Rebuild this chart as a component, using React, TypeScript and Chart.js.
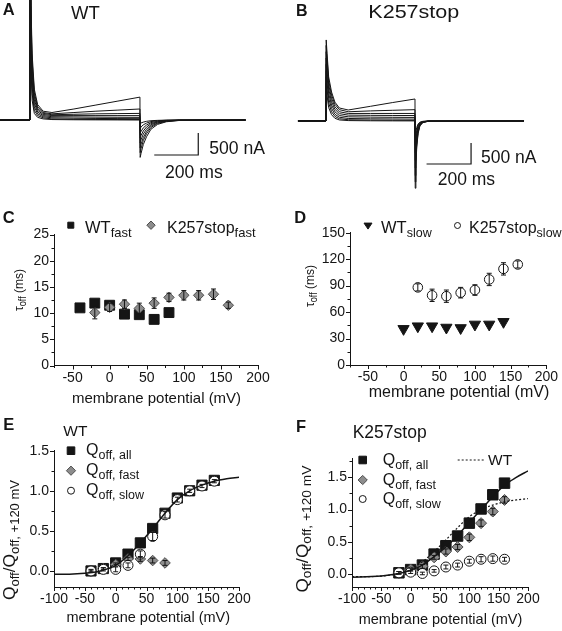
import React, { useEffect, useRef } from 'react';
import { Chart, registerables } from 'chart.js';

Chart.register(...registerables);

const FONT = '"Liberation Sans", Arial, Helvetica, sans-serif';
const INK = '#151515';
const DIAMOND_FILL = '#8d8d8d';
const DIAMOND_EDGE = '#4c4c4c';

// ---------- A: WT current traces (ms, nA) ----------
const timeA = [-136, 0, 1, 5, 10, 20, 35, 60, 100, 200, 300, 400, 500, 501, 505, 515, 530, 550, 580, 620, 680, 980];
const wtTraces = [
  [0, 0, 6000, 2600, 1500, 700, 350, 200, 170, 250, 340, 430, 520, -850, -760, -560, -380, -210, -100, -40, -10, 0],
  [0, 0, 5600, 2400, 1350, 620, 300, 170, 140, 170, 200, 225, 250, -740, -650, -470, -310, -170, -80, -30, -8, 0],
  [0, 0, 5200, 2200, 1200, 540, 260, 150, 120, 130, 140, 145, 150, -630, -550, -400, -260, -140, -65, -25, -6, 0],
  [0, 0, 4800, 2000, 1050, 460, 220, 125, 100, 100, 100, 100, 100, -520, -450, -320, -210, -110, -50, -20, -5, 0],
  [0, 0, 4400, 1800, 900, 380, 180, 100, 75, 70, 65, 62, 60, -410, -350, -250, -160, -85, -40, -15, -4, 0],
  [0, 0, 4000, 1600, 750, 300, 140, 75, 50, 40, 35, 32, 30, -300, -260, -180, -115, -60, -28, -10, -3, 0],
  [0, 0, 3600, 1400, 600, 220, 100, 50, 25, 15, 12, 10, 10, -190, -160, -110, -70, -36, -17, -6, -2, 0],
  [0, 0, 3200, 1200, 450, 150, 60, 25, 10, 5, 3, 2, 0, -80, -68, -48, -30, -16, -8, -3, -1, 0],
];
const barTimeA = [565, 765, 765];
const barCurrA = [-795, -795, -295];

// ---------- B: K257stop current traces (ms, nA) ----------
const timeB = [-126, 0, 1, 5, 12, 25, 40, 60, 100, 200, 300, 400, 401, 404, 408, 414, 422, 435, 460, 890];
const k257Traces = [
  [0, 0, 1930, 1600, 1050, 690, 450, 310, 262, 350, 440, 524, -1600, -1050, -620, -300, -120, -40, -5, 0],
  [0, 0, 1800, 1480, 960, 620, 400, 270, 220, 240, 255, 270, -1450, -950, -560, -270, -110, -35, -5, 0],
  [0, 0, 1650, 1350, 860, 540, 340, 220, 180, 180, 180, 180, -1300, -850, -500, -240, -95, -30, -4, 0],
  [0, 0, 1500, 1200, 760, 460, 280, 175, 140, 135, 132, 130, -1120, -730, -430, -200, -80, -25, -3, 0],
  [0, 0, 1350, 1050, 650, 380, 220, 130, 100, 92, 88, 85, -940, -610, -360, -170, -65, -20, -3, 0],
  [0, 0, 1200, 900, 540, 300, 160, 90, 60, 52, 48, 45, -760, -490, -290, -135, -52, -16, -2, 0],
  [0, 0, 1050, 750, 430, 220, 110, 55, 30, 22, 18, 15, -580, -370, -220, -100, -40, -12, -2, 0],
  [0, 0, 900, 600, 320, 150, 65, 25, 10, 5, 3, 2, -400, -260, -150, -70, -28, -8, -1, 0],
];
const barTimeB = [452, 652, 652];
const barCurrB = [-1024, -1024, -524];

// ---------- C: tau_off fast (ms) ----------
const cVoltWT = [-40, -20, 0, 20, 40, 60, 80];
const cWTFast = [11.0, 11.9, 11.5, 9.8, 9.7, 8.8, 10.1];
const cVoltK = [-20, 0, 20, 40, 60, 80, 100, 120, 140, 160];
const cKFast = [10.1, 11.1, 11.7, 10.9, 11.9, 13.0, 13.4, 13.4, 13.6, 11.5];
const cKFastErr = [1.2, 0.8, 0.8, 1.0, 1.0, 0.8, 0.9, 0.9, 1.0, 0.6];
const cTicksX = [-50, 0, 50, 100, 150, 200];
const cMinorX = [-75, -25, 25, 75, 125, 175];
const cTicksY = [0, 5, 10, 15, 20, 25];
const cMinorY = [2.5, 7.5, 12.5, 17.5, 22.5];

// ---------- D: tau_off slow (ms) ----------
const dVoltWT = [0, 20, 40, 60, 80, 100, 120, 140];
const dWTSlow = [41, 44, 44, 42.5, 42, 46, 46, 49];
const dVoltK = [20, 40, 60, 80, 100, 120, 140, 160];
const dKSlow = [88, 79, 78, 82, 85, 97, 109, 114];
const dKSlowErr = [4, 7, 7, 6, 6, 7, 7, 4];
const dTicksY = [0, 30, 60, 90, 120, 150];
const dMinorY = [15, 45, 75, 105, 135];

// ---------- E: WT normalised charge ----------
const eVolt = [-40, -20, 0, 20, 40, 60, 80, 100, 120, 140, 160];
const eAll = [0.0, 0.03, 0.1, 0.21, 0.35, 0.53, 0.72, 0.91, 1.0, 1.07, 1.13];
const eVoltFast = [-40, -20, 0, 20, 40, 60, 80];
const eFast = [0.0, 0.03, 0.08, 0.15, 0.15, 0.13, 0.1];
const eFastErr = [0.01, 0.01, 0.02, 0.02, 0.03, 0.03, 0.03];
const eSlow = [0.0, 0.02, 0.02, 0.07, 0.21, 0.43, 0.7, 0.89, 1.0, 1.06, 1.12];
const eSlowErr = [0.02, 0.02, 0.03, 0.03, 0.04, 0.05, 0.04, 0.03, 0.02, 0.02, 0.02];
const fitVolt = [-100, -75, -50, -25, 0, 20, 40, 60, 80, 100, 120, 140, 160, 180, 200];
const wtFit = [-0.04, -0.04, -0.03, 0.0, 0.07, 0.19, 0.35, 0.53, 0.72, 0.89, 1.0, 1.07, 1.12, 1.15, 1.17];
const qTicksX = [-100, -50, 0, 50, 100, 150, 200];
const qMinorX = [-90, -80, -70, -60, -40, -30, -20, -10, 10, 20, 30, 40, 60, 70, 80, 90, 110, 120, 130, 140, 160, 170, 180, 190];
const eTicksY = [0, 0.5, 1.0, 1.5];
const eMinorY = [0.25, 0.75, 1.25];

// ---------- F: K257stop normalised charge ----------
const fVolt = [-20, 0, 20, 40, 60, 80, 100, 120, 140, 160];
const fAll = [0.02, 0.07, 0.14, 0.31, 0.44, 0.59, 0.79, 1.01, 1.23, 1.41];
const fFast = [0.02, 0.07, 0.12, 0.26, 0.35, 0.42, 0.57, 0.79, 0.97, 1.15];
const fFastErr = [0.02, 0.02, 0.03, 0.03, 0.04, 0.04, 0.05, 0.05, 0.05, 0.05];
const fSlow = [0.02, 0.03, 0.01, 0.05, 0.11, 0.14, 0.2, 0.23, 0.24, 0.23];
const fSlowErr = [0.02, 0.02, 0.02, 0.02, 0.03, 0.03, 0.03, 0.04, 0.04, 0.03];
const k257Fit = [-0.05, -0.04, -0.03, 0.0, 0.06, 0.14, 0.27, 0.42, 0.6, 0.8, 1.0, 1.2, 1.38, 1.5, 1.6];
const fTicksY = [0, 0.5, 1.0, 1.5];
const fMinorY = [0.25, 0.75, 1.25, 1.75];

// ---------- helpers ----------
const pts = (xs: number[], ys: number[]) => xs.map((x, i) => ({ x, y: ys[i] }));

type Part = { t: string; s: number; dy?: number; b?: boolean };
type TextItem = { x: number; y: number; parts: Part[]; align?: 'left' | 'center'; rot?: number; w?: number };
type MarkItem = { x: number; y: number; kind: 'rect' | 'diamond' | 'circle' | 'tri'; r: number; fill: string; stroke: string };
type Deco = {
  texts: TextItem[];
  marks?: MarkItem[];
  lines?: { x1: number; y1: number; x2: number; y2: number; dash?: number[] }[];
  minorX?: number[];
  minorY?: number[];
  axes?: boolean;
  errs?: { ds: number; err: number[] }[];
};

function fontOf(p: Part) {
  return `${p.b ? 'bold ' : ''}${p.s}px ${FONT}`;
}

function partsWidth(ctx: CanvasRenderingContext2D, parts: Part[]) {
  let w = 0;
  for (const p of parts) {
    ctx.font = fontOf(p);
    w += ctx.measureText(p.t).width;
  }
  return w;
}

function drawParts(ctx: CanvasRenderingContext2D, parts: Part[], x: number, y: number) {
  let cx = x;
  for (const p of parts) {
    ctx.font = fontOf(p);
    ctx.fillText(p.t, cx, y + (p.dy || 0));
    cx += ctx.measureText(p.t).width;
  }
}

function drawMarker(ctx: CanvasRenderingContext2D, m: MarkItem) {
  ctx.save();
  ctx.fillStyle = m.fill;
  ctx.strokeStyle = m.stroke;
  ctx.lineWidth = 1;
  ctx.beginPath();
  const { x, y, r } = m;
  if (m.kind === 'rect') ctx.rect(x - r, y - r, 2 * r, 2 * r);
  else if (m.kind === 'diamond') {
    ctx.moveTo(x, y - r); ctx.lineTo(x + r, y); ctx.lineTo(x, y + r); ctx.lineTo(x - r, y); ctx.closePath();
  } else if (m.kind === 'circle') ctx.arc(x, y, r, 0, Math.PI * 2);
  else {
    ctx.moveTo(x - r, y - r * 0.6); ctx.lineTo(x + r, y - r * 0.6); ctx.lineTo(x, y + r * 0.9); ctx.closePath();
  }
  ctx.fill();
  ctx.stroke();
  ctx.restore();
}

function decoPlugin(d: Deco) {
  return {
    id: 'deco',
    afterDatasetsDraw(chart: any) {
      const ctx: CanvasRenderingContext2D = chart.ctx;
      const ys = chart.scales.y;
      (d.errs || []).forEach((e) => {
        const meta = chart.getDatasetMeta(e.ds);
        const vals = chart.data.datasets[e.ds].data as any[];
        meta.data.forEach((pt: any, i: number) => {
          const v = vals[i].y;
          const top = ys.getPixelForValue(v + e.err[i]);
          const bot = ys.getPixelForValue(v - e.err[i]);
          ctx.save();
          ctx.strokeStyle = INK;
          ctx.lineWidth = 1;
          ctx.beginPath();
          ctx.moveTo(pt.x, top); ctx.lineTo(pt.x, bot);
          ctx.moveTo(pt.x - 2.5, top); ctx.lineTo(pt.x + 2.5, top);
          ctx.moveTo(pt.x - 2.5, bot); ctx.lineTo(pt.x + 2.5, bot);
          ctx.stroke();
          ctx.restore();
        });
      });
    },
    afterDraw(chart: any) {
      const ctx: CanvasRenderingContext2D = chart.ctx;
      ctx.save();
      ctx.strokeStyle = INK;
      ctx.lineWidth = 1;
      if (d.axes) {
        const xs = chart.scales.x;
        const ys = chart.scales.y;
        const area = chart.chartArea;
        ctx.beginPath();
        xs.ticks.forEach((t: any) => {
          const px = Math.round(xs.getPixelForValue(t.value)) + 0.5;
          ctx.moveTo(px, area.bottom); ctx.lineTo(px, area.bottom + 4);
        });
        (d.minorX || []).forEach((v) => {
          const px = Math.round(xs.getPixelForValue(v)) + 0.5;
          ctx.moveTo(px, area.bottom); ctx.lineTo(px, area.bottom + 2.5);
        });
        ys.ticks.forEach((t: any) => {
          const py = Math.round(ys.getPixelForValue(t.value)) + 0.5;
          ctx.moveTo(area.left, py); ctx.lineTo(area.left - 4, py);
        });
        (d.minorY || []).forEach((v) => {
          const py = Math.round(ys.getPixelForValue(v)) + 0.5;
          ctx.moveTo(area.left, py); ctx.lineTo(area.left - 2.5, py);
        });
        ctx.stroke();
      }
      (d.lines || []).forEach((l) => {
        ctx.save();
        ctx.setLineDash(l.dash || []);
        ctx.beginPath();
        ctx.moveTo(l.x1, l.y1); ctx.lineTo(l.x2, l.y2);
        ctx.stroke();
        ctx.restore();
      });
      (d.marks || []).forEach((m) => drawMarker(ctx, m));
      ctx.fillStyle = INK;
      ctx.textBaseline = 'alphabetic';
      ctx.textAlign = 'left';
      d.texts.forEach((t) => {
        const w = partsWidth(ctx, t.parts);
        if (t.rot) {
          ctx.save();
          ctx.translate(t.x, t.y);
          ctx.rotate(-Math.PI / 2);
          ctx.scale(t.rot / w, 1);
          drawParts(ctx, t.parts, -w / 2, 0);
          ctx.restore();
        } else if (t.w) {
          ctx.save();
          ctx.translate(t.align === 'center' ? t.x - t.w / 2 : t.x, t.y);
          ctx.scale(t.w / w, 1);
          drawParts(ctx, t.parts, 0, 0);
          ctx.restore();
        } else {
          drawParts(ctx, t.parts, t.align === 'center' ? t.x - w / 2 : t.x, t.y);
        }
      });
      ctx.restore();
    },
  };
}

function linAxis(min: number, max: number, major: number[], fmt: (v: number) => string, fit: { w?: number; h?: number }, pad: number) {
  return {
    type: 'linear',
    min,
    max,
    afterBuildTicks: (s: any) => {
      s.ticks = major.map((v) => ({ value: v }));
    },
    afterFit: (s: any) => {
      if (fit.w !== undefined) s.width = fit.w;
      if (fit.h !== undefined) s.height = fit.h;
    },
    grid: { display: false, drawTicks: false, tickLength: 0 },
    border: { display: true, color: INK, width: 1 },
    ticks: {
      callback: (v: number) => fmt(v),
      font: { family: FONT, size: 14 },
      color: INK,
      padding: pad,
      autoSkip: false,
      maxRotation: 0,
      minRotation: 0,
    },
  };
}

const baseOpts = {
  animation: false,
  responsive: false,
  maintainAspectRatio: false,
  events: [],
  plugins: { legend: { display: false }, tooltip: { enabled: false } },
};

function traceChart(time: number[], traces: number[][], barT: number[], barI: number[], xr: [number, number], yr: [number, number], deco: Deco) {
  return {
    type: 'line',
    data: {
      datasets: [
        ...traces.map((tr) => ({
          data: pts(time, tr),
          borderColor: INK,
          borderWidth: 1,
          pointRadius: 0,
          fill: false,
          tension: 0,
        })),
        { data: pts(barT, barI), borderColor: INK, borderWidth: 1.2, pointRadius: 0, fill: false, tension: 0 },
      ],
    },
    options: {
      ...baseOpts,
      layout: { padding: 0 },
      scales: {
        x: { type: 'linear', display: false, min: xr[0], max: xr[1] },
        y: { type: 'linear', display: false, min: yr[0], max: yr[1] },
      },
    },
    plugins: [decoPlugin(deco)],
  };
}

const num = (v: number) => String(v);
const dec1 = (v: number) => v.toFixed(1);

const buildA = () =>
  traceChart(timeA, wtTraces, barTimeA, barCurrA, [-136, 1141], [-1818, 2727], {
    texts: [
      { x: 2.7, y: 15, parts: [{ t: 'A', s: 16.5, b: true }] },
      { x: 71, y: 19.3, parts: [{ t: 'WT', s: 18.5 }] },
      { x: 209.3, y: 154.3, parts: [{ t: '500 nA', s: 17.6 }] },
      { x: 165, y: 177.7, parts: [{ t: '200 ms', s: 17.6 }] },
    ],
  });

const buildB = () =>
  traceChart(timeB, k257Traces, barTimeB, barCurrB, [-202.2, 1060.7], [-1881, 2881], {
    texts: [
      { x: 15, y: 16, parts: [{ t: 'B', s: 16, b: true }] },
      { x: 87.3, y: 18.3, parts: [{ t: 'K257stop', s: 18.5 }], w: 91 },
      { x: 200, y: 163.3, parts: [{ t: '500 nA', s: 17.5 }] },
      { x: 156.7, y: 185, parts: [{ t: '200 ms', s: 17.5 }] },
    ],
  });

const buildC = () => ({
  type: 'scatter',
  data: {
    datasets: [
      { data: pts(cVoltK, cKFast), pointStyle: 'rectRot', pointRadius: 5.2, backgroundColor: DIAMOND_FILL, borderColor: DIAMOND_EDGE, borderWidth: 1 },
      { data: pts(cVoltWT, cWTFast), pointStyle: 'rect', pointRadius: 7, backgroundColor: INK, borderColor: INK, borderWidth: 1 },
    ],
  },
  options: {
    ...baseOpts,
    layout: { padding: { left: 14, right: 23, top: 34.5, bottom: 14.5 } },
    scales: {
      x: linAxis(-75, 200, cTicksX, num, { h: 30 }, 4),
      y: linAxis(0, 25, cTicksY, num, { w: 40 }, 5),
    },
  },
  plugins: [
    decoPlugin({
      axes: true,
      minorX: cMinorX,
      minorY: cMinorY,
      errs: [{ ds: 0, err: cKFastErr }],
      marks: [
        { x: 70.8, y: 25.2, kind: 'rect', r: 3, fill: INK, stroke: INK },
        { x: 151, y: 25.2, kind: 'diamond', r: 4.2, fill: DIAMOND_FILL, stroke: DIAMOND_EDGE },
      ],
      texts: [
        { x: 2.7, y: 23.3, parts: [{ t: 'C', s: 16.5, b: true }] },
        { x: 85, y: 33.3, parts: [{ t: 'WT', s: 16.5 }, { t: 'fast', s: 13, dy: 4 }] },
        { x: 167, y: 33.3, parts: [{ t: 'K257stop', s: 16 }, { t: 'fast', s: 13, dy: 4 }] },
        { x: 22.5, y: 90, rot: 42, parts: [{ t: 'τ', s: 13 }, { t: 'off', s: 10, dy: 3 }, { t: ' (ms)', s: 13 }] },
        { x: 156.5, y: 203, align: 'center', parts: [{ t: 'membrane potential (mV)', s: 15 }] },
      ],
    }),
  ],
});

const buildD = () => ({
  type: 'scatter',
  data: {
    datasets: [
      { data: pts(dVoltK, dKSlow), pointStyle: 'circle', pointRadius: 4.8, backgroundColor: '#ffffff', borderColor: INK, borderWidth: 1 },
      { data: pts(dVoltWT, dWTSlow), pointStyle: 'triangle', rotation: 180, pointRadius: 6.5, backgroundColor: INK, borderColor: INK, borderWidth: 1 },
    ],
  },
  options: {
    ...baseOpts,
    layout: { padding: { left: 29, right: 14, top: 32.7, bottom: 15 } },
    scales: {
      x: linAxis(-75, 200, cTicksX, num, { h: 30 }, 4),
      y: linAxis(0, 150, dTicksY, num, { w: 40 }, 5),
    },
  },
  plugins: [
    decoPlugin({
      axes: true,
      minorX: cMinorX,
      minorY: dMinorY,
      errs: [{ ds: 0, err: dKSlowErr }],
      marks: [
        { x: 87, y: 25.5, kind: 'tri', r: 4, fill: INK, stroke: INK },
        { x: 176.5, y: 25.5, kind: 'circle', r: 3, fill: '#ffffff', stroke: INK },
      ],
      texts: [
        { x: 13.3, y: 23.3, parts: [{ t: 'D', s: 16.5, b: true }] },
        { x: 100, y: 33.3, parts: [{ t: 'WT', s: 16.5 }, { t: 'slow', s: 12.5, dy: 4 }] },
        { x: 188, y: 33.3, parts: [{ t: 'K257stop', s: 16 }, { t: 'slow', s: 12.5, dy: 4 }] },
        { x: 32.5, y: 86, rot: 42, parts: [{ t: 'τ', s: 13 }, { t: 'off', s: 10, dy: 3 }, { t: ' (ms)', s: 13 }] },
        { x: 178, y: 197, align: 'center', parts: [{ t: 'membrane potential (mV)', s: 16 }] },
      ],
    }),
  ],
});

const qTitle = (x: number, y: number, len: number): TextItem => ({
  x,
  y,
  rot: len,
  parts: [
    { t: 'Q', s: 16 },
    { t: 'off', s: 12, dy: 3.5 },
    { t: '/Q', s: 16 },
    { t: 'off, +120 mV', s: 12, dy: 3.5 },
  ],
});

const legendRows = (mx: number, tx: number, ys: number[]): { marks: MarkItem[]; texts: TextItem[] } => ({
  marks: [
    { x: mx, y: ys[0], kind: 'rect', r: 3.8, fill: INK, stroke: INK },
    { x: mx, y: ys[1], kind: 'diamond', r: 4.6, fill: DIAMOND_FILL, stroke: DIAMOND_EDGE },
    { x: mx, y: ys[2], kind: 'circle', r: 3.5, fill: '#ffffff', stroke: INK },
  ],
  texts: [
    { x: tx, y: ys[0] + 4.5, parts: [{ t: 'Q', s: 16 }, { t: 'off, all', s: 12.5, dy: 4 }] },
    { x: tx, y: ys[1] + 4.5, parts: [{ t: 'Q', s: 16 }, { t: 'off, fast', s: 12.5, dy: 4 }] },
    { x: tx, y: ys[2] + 4.5, parts: [{ t: 'Q', s: 16 }, { t: 'off, slow', s: 12.5, dy: 4 }] },
  ],
});

const buildE = () => {
  const lg = legendRows(71, 86, [40.7, 60.7, 80.7]);
  return {
    type: 'scatter',
    data: {
      datasets: [
        { data: pts(fitVolt, wtFit), showLine: true, pointRadius: 0, borderColor: INK, borderWidth: 1.5, cubicInterpolationMode: 'monotone' },
        { data: pts(eVolt, eSlow), pointStyle: 'circle', pointRadius: 5, backgroundColor: '#ffffff', borderColor: INK, borderWidth: 1 },
        { data: pts(eVoltFast, eFast), pointStyle: 'rectRot', pointRadius: 5.3, backgroundColor: DIAMOND_FILL, borderColor: DIAMOND_EDGE, borderWidth: 1 },
        { data: pts(eVolt, eAll), pointStyle: 'rect', pointRadius: 7.2, backgroundColor: INK, borderColor: INK, borderWidth: 1 },
      ],
    },
    options: {
      ...baseOpts,
      layout: { padding: { left: 14, right: 42, top: 40.7, bottom: 14 } },
      scales: {
        x: linAxis(-100, 200, qTicksX, num, { h: 30 }, 4),
        y: linAxis(-0.2, 1.5, eTicksY, dec1, { w: 40 }, 5),
      },
    },
    plugins: [
      decoPlugin({
        axes: true,
        minorX: qMinorX,
        minorY: eMinorY,
        errs: [
          { ds: 1, err: eSlowErr },
          { ds: 2, err: eFastErr },
        ],
        marks: lg.marks,
        texts: [
          { x: 3.3, y: 20, parts: [{ t: 'E', s: 16.5, b: true }] },
          { x: 63.3, y: 26, parts: [{ t: 'WT', s: 15.5 }] },
          ...lg.texts,
          qTitle(15, 130, 120),
          { x: 148.3, y: 212, align: 'center', parts: [{ t: 'membrane potential (mV)', s: 14.5 }] },
        ],
      }),
    ],
  };
};

const buildF = () => {
  const lg = legendRows(81.7, 101.7, [50, 70, 89]);
  return {
    type: 'scatter',
    data: {
      datasets: [
        { data: pts(fitVolt, k257Fit), showLine: true, pointRadius: 0, borderColor: INK, borderWidth: 1.5, cubicInterpolationMode: 'monotone' },
        { data: pts(fitVolt, wtFit), showLine: true, pointRadius: 0, borderColor: INK, borderWidth: 1.2, borderDash: [2, 2], cubicInterpolationMode: 'monotone' },
        { data: pts(fVolt, fSlow), pointStyle: 'circle', pointRadius: 5, backgroundColor: '#ffffff', borderColor: INK, borderWidth: 1 },
        { data: pts(fVolt, fFast), pointStyle: 'rectRot', pointRadius: 5.5, backgroundColor: DIAMOND_FILL, borderColor: DIAMOND_EDGE, borderWidth: 1 },
        { data: pts(fVolt, fAll), pointStyle: 'rect', pointRadius: 7.4, backgroundColor: INK, borderColor: INK, borderWidth: 1 },
      ],
    },
    options: {
      ...baseOpts,
      layout: { padding: { left: 31, right: 34, top: 48, bottom: 14 } },
      scales: {
        x: linAxis(-100, 200, qTicksX, num, { h: 30 }, 4),
        y: linAxis(-0.2, 1.8, fTicksY, dec1, { w: 40 }, 5),
      },
    },
    plugins: [
      decoPlugin({
        axes: true,
        minorX: qMinorX,
        minorY: fMinorY,
        errs: [
          { ds: 2, err: fSlowErr },
          { ds: 3, err: fFastErr },
        ],
        marks: lg.marks,
        lines: [{ x1: 176.7, y1: 50, x2: 203.3, y2: 50, dash: [2, 2] }],
        texts: [
          { x: 15, y: 21.7, parts: [{ t: 'F', s: 16.5, b: true }] },
          { x: 71.7, y: 27.5, parts: [{ t: 'K257stop', s: 17.5 }] },
          ...lg.texts,
          { x: 207, y: 55, parts: [{ t: 'WT', s: 15.5 }] },
          qTitle(26.7, 119, 127),
          { x: 159.5, y: 214, align: 'center', parts: [{ t: 'membrane potential (mV)', s: 14.5 }] },
        ],
      }),
    ],
  };
};

function Panel({ left, top, width, height, build }: { left: number; top: number; width: number; height: number; build: () => any }) {
  const ref = useRef<HTMLCanvasElement>(null);
  useEffect(() => {
    const chart = new Chart(ref.current as HTMLCanvasElement, build());
    return () => chart.destroy();
  }, []);
  return <canvas ref={ref} width={width} height={height} style={{ position: 'absolute', left, top, width, height, display: 'block' }} />;
}

export default function App() {
  return (
    <div style={{ position: 'relative', width: 562, height: 631, background: '#ffffff', overflow: 'hidden' }}>
      <style>{'html,body{margin:0;padding:0;background:#fff;}'}</style>
      <Panel left={0} top={0} width={281} height={200} build={buildA} />
      <Panel left={281} top={0} width={281} height={200} build={buildB} />
      <Panel left={0} top={200} width={281} height={210} build={buildC} />
      <Panel left={281} top={200} width={281} height={210} build={buildD} />
      <Panel left={0} top={410} width={281} height={221} build={buildE} />
      <Panel left={281} top={410} width={281} height={221} build={buildF} />
    </div>
  );
}
